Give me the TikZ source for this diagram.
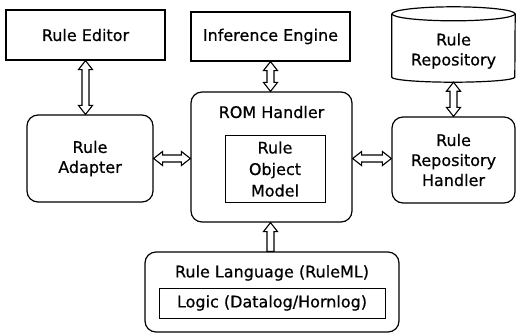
\documentclass[tikz,border=0pt]{standalone}
\usepackage{fontspec}
\setmainfont{DejaVu Sans}
\newfontfamily\heavyfont{DejaVu Sans}[FakeBold=0.6]
\usetikzlibrary{calc}
\newcommand\vdarrow[2]{\draw[arrowline] let \p1=(#1), \p2=(#2) in
  (\x1,\y1) -- ++(7pt,-9pt) -- ++(-3.5pt,0pt) -- (\x1+3.5pt,\y2+9pt) -- ++(3.5pt,0pt)
  -- (\x1,\y2) -- ++(-7pt,9pt) -- ++(3.5pt,0pt) -- (\x1-3.5pt,\y1-9pt) -- ++(-3.5pt,0pt) -- cycle;}
\newcommand\hdarrow[2]{\draw[arrowline] let \p1=(#1), \p2=(#2) in
  (\x1,\y1) -- ++(9pt,7pt) -- ++(0pt,-3.5pt) -- (\x2-9pt,\y1+3.5pt) -- ++(0pt,3.5pt)
  -- (\x2,\y1) -- ++(-9pt,-7pt) -- ++(0pt,3.5pt) -- (\x1+9pt,\y1-3.5pt) -- ++(0pt,-3.5pt) -- cycle;}
\newcommand\uparr[2]{\draw[arrowline] let \p1=(#1), \p2=(#2) in
  (\x1,\y1) -- ++(7pt,-9pt) -- ++(-3.5pt,0pt) -- (\x1+3.5pt,\y2)
  -- (\x1-3.5pt,\y2) -- (\x1-3.5pt,\y1-9pt) -- ++(-3.5pt,0pt) -- cycle;}
\begin{document}
\begin{tikzpicture}[x=1pt,y=-1pt,
  txt/.style={font=\heavyfont\fontsize{16}{20}\selectfont, align=center, inner sep=0pt},
  box/.style={txt, draw, line width=1.2pt},
  rbox/.style={box, rounded corners=11pt},
  arrowline/.style={draw, line width=1.1pt, fill=white, line join=miter}]
\useasboundingbox (0,0) rectangle (517,333);
\node[box, minimum width=159pt, minimum height=50pt] (editor) at (85.5,35) {Rule Editor};
\node[box, minimum width=159pt, minimum height=49pt] (infer) at (270.5,36.5) {Inference Engine};
\node[txt, minimum width=123pt, minimum height=75pt] (repo) at (453.5,44.5) {};
\node[txt] (repotxt) at (453.5,51) {Rule\\Repository};
\draw[line width=1.2pt] ($(repo.north west)+(0pt,-7pt)$) -- ($(repo.south west)+(0pt,5pt)$)
  arc[start angle=180, end angle=360, x radius=61.5pt, y radius=5pt]
  -- ($(repo.north east)+(0pt,-7pt)$);
\draw[line width=1.2pt] ($(repo.north)+(0pt,-7pt)$) ellipse[x radius=61.5pt, y radius=7pt];
\node[rbox, minimum width=126pt, minimum height=87pt] (adapter) at (90,158.5) {Rule\\Adapter};
\node[rbox, minimum width=161pt, minimum height=130pt] (rom) at (271.5,157) {};
\node[txt] (romlbl) at (271.5,112) {ROM Handler};
\node[box, line width=1pt, minimum width=100pt, minimum height=67pt, font=\heavyfont\fontsize{16}{21.5}\selectfont] (model) at (275,169) {Rule\\Object\\Model};
\node[rbox, minimum width=123pt, minimum height=86pt] (rrh) at (453.5,160) {Rule\\Repository\\Handler};
\node[rbox, minimum width=254pt, minimum height=80pt] (lang) at (272,292) {};
\node[txt] (langlbl) at (272,273) {Rule Language (RuleML)};
\node[box, line width=1pt, minimum width=226pt, minimum height=30pt] (logic) at (272,303) {Logic (Datalog/Hornlog)};
\vdarrow{editor.south}{editor.south |- adapter.north}
\vdarrow{infer.south}{infer.south |- rom.north}
\vdarrow{repo.south}{repo.south |- rrh.north}
\hdarrow{adapter.east}{adapter.east -| rom.west}
\hdarrow{rom.east |- adapter.east}{rrh.west |- adapter.east}
\uparr{infer.south |- rom.south}{infer.south |- lang.north}
\end{tikzpicture}
\end{document}
